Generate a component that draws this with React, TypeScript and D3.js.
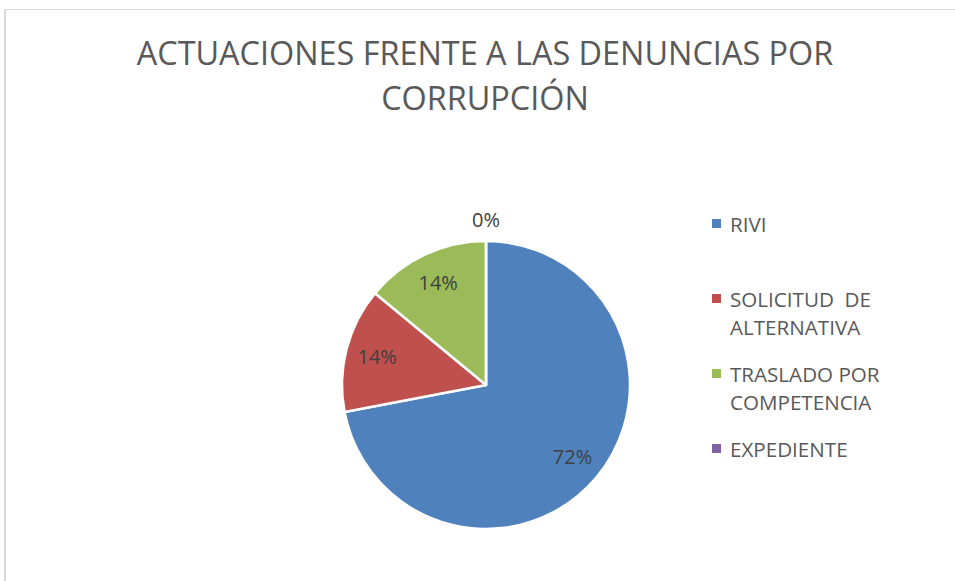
import React from "react";
import * as d3 from "d3";

const categories = ["RIVI", "SOLICITUD  DE ALTERNATIVA", "TRASLADO POR COMPETENCIA", "EXPEDIENTE"];
const legendLines = [["RIVI"], ["SOLICITUD  DE", "ALTERNATIVA"], ["TRASLADO POR", "COMPETENCIA"], ["EXPEDIENTE"]];
const values = [72, 14, 14, 0];
const labels = ["72%", "14%", "14%", "0%"];
const colors = ["#4F81BD", "#C0504D", "#9BBB59", "#8064A2"];
const titleLines = ["ACTUACIONES FRENTE A LAS DENUNCIAS POR", "CORRUPCIÓN"];

const W = 955;
const H = 581;
const FONT = "'Open Sans', 'Liberation Sans', sans-serif";

export default function App() {
  const cx = 486;
  const cy = 385;
  const R = 144;
  const data = categories.map((c, i) => ({ name: c, value: values[i], label: labels[i], color: colors[i] }));
  const pie = d3.pie<any>().sort(null).value((d) => d.value).startAngle(0).endAngle(2 * Math.PI);
  const arcs = pie(data);
  const arc = d3.arc<any>().innerRadius(0).outerRadius(R);
  const labelArc = d3.arc<any>().innerRadius(R * 0.78).outerRadius(R * 0.78);
  const outArc = d3.arc<any>().innerRadius(R + 21).outerRadius(R + 21);

  const legendY = d3.scalePoint<number>().domain([0, 1, 2, 3]).range([224, 449]);
  const lineH = 28;

  return (
    <svg width={W} height={H} style={{ position: "absolute", left: 0, top: 0, background: "#fff" }}>
      <rect x={0} y={0} width={W} height={H} fill="#fff" />
      <line x1={5} y1={9.5} x2={W} y2={9.5} stroke="#d9d9d9" strokeWidth={1} />
      <line x1={5} y1={9} x2={5} y2={H} stroke="#d9d9d9" strokeWidth={2} />
      <g fontFamily={FONT} fill="#595959" textAnchor="middle" fontSize={32.4}>
        {titleLines.map((t, i) => (
          <text key={i} x={485} y={65 + i * 45}>{t}</text>
        ))}
      </g>
      <g>
        {arcs.map((a, i) => (
          <path key={i} d={arc(a) as string} transform={`translate(${cx},${cy})`} fill={a.data.color} stroke="#fff" strokeWidth={2.5} strokeLinejoin="round" />
        ))}
      </g>
      <g fontFamily={FONT} fill="#404040" fontSize={20} textAnchor="middle">
        {arcs.map((a, i) => {
          const p = (a.data.value === 0 ? outArc : labelArc).centroid(a);
          return (
            <text key={i} x={cx + p[0]} y={cy + p[1]} dy="0.35em">{a.data.label}</text>
          );
        })}
      </g>
      <g fontFamily={FONT} fill="#595959" fontSize={20.6} style={{ whiteSpace: "pre" }}>
        {legendLines.map((lines, i) => {
          const y0 = legendY(i) as number;
          return (
            <g key={i}>
              <rect x={712} y={y0 - 5} width={9} height={9} fill={colors[i]} />
              {lines.map((l, j) => (
                <text key={j} x={730} y={y0 + 7.5 + j * lineH} xmlSpace="preserve">{l}</text>
              ))}
            </g>
          );
        })}
      </g>
    </svg>
  );
}
